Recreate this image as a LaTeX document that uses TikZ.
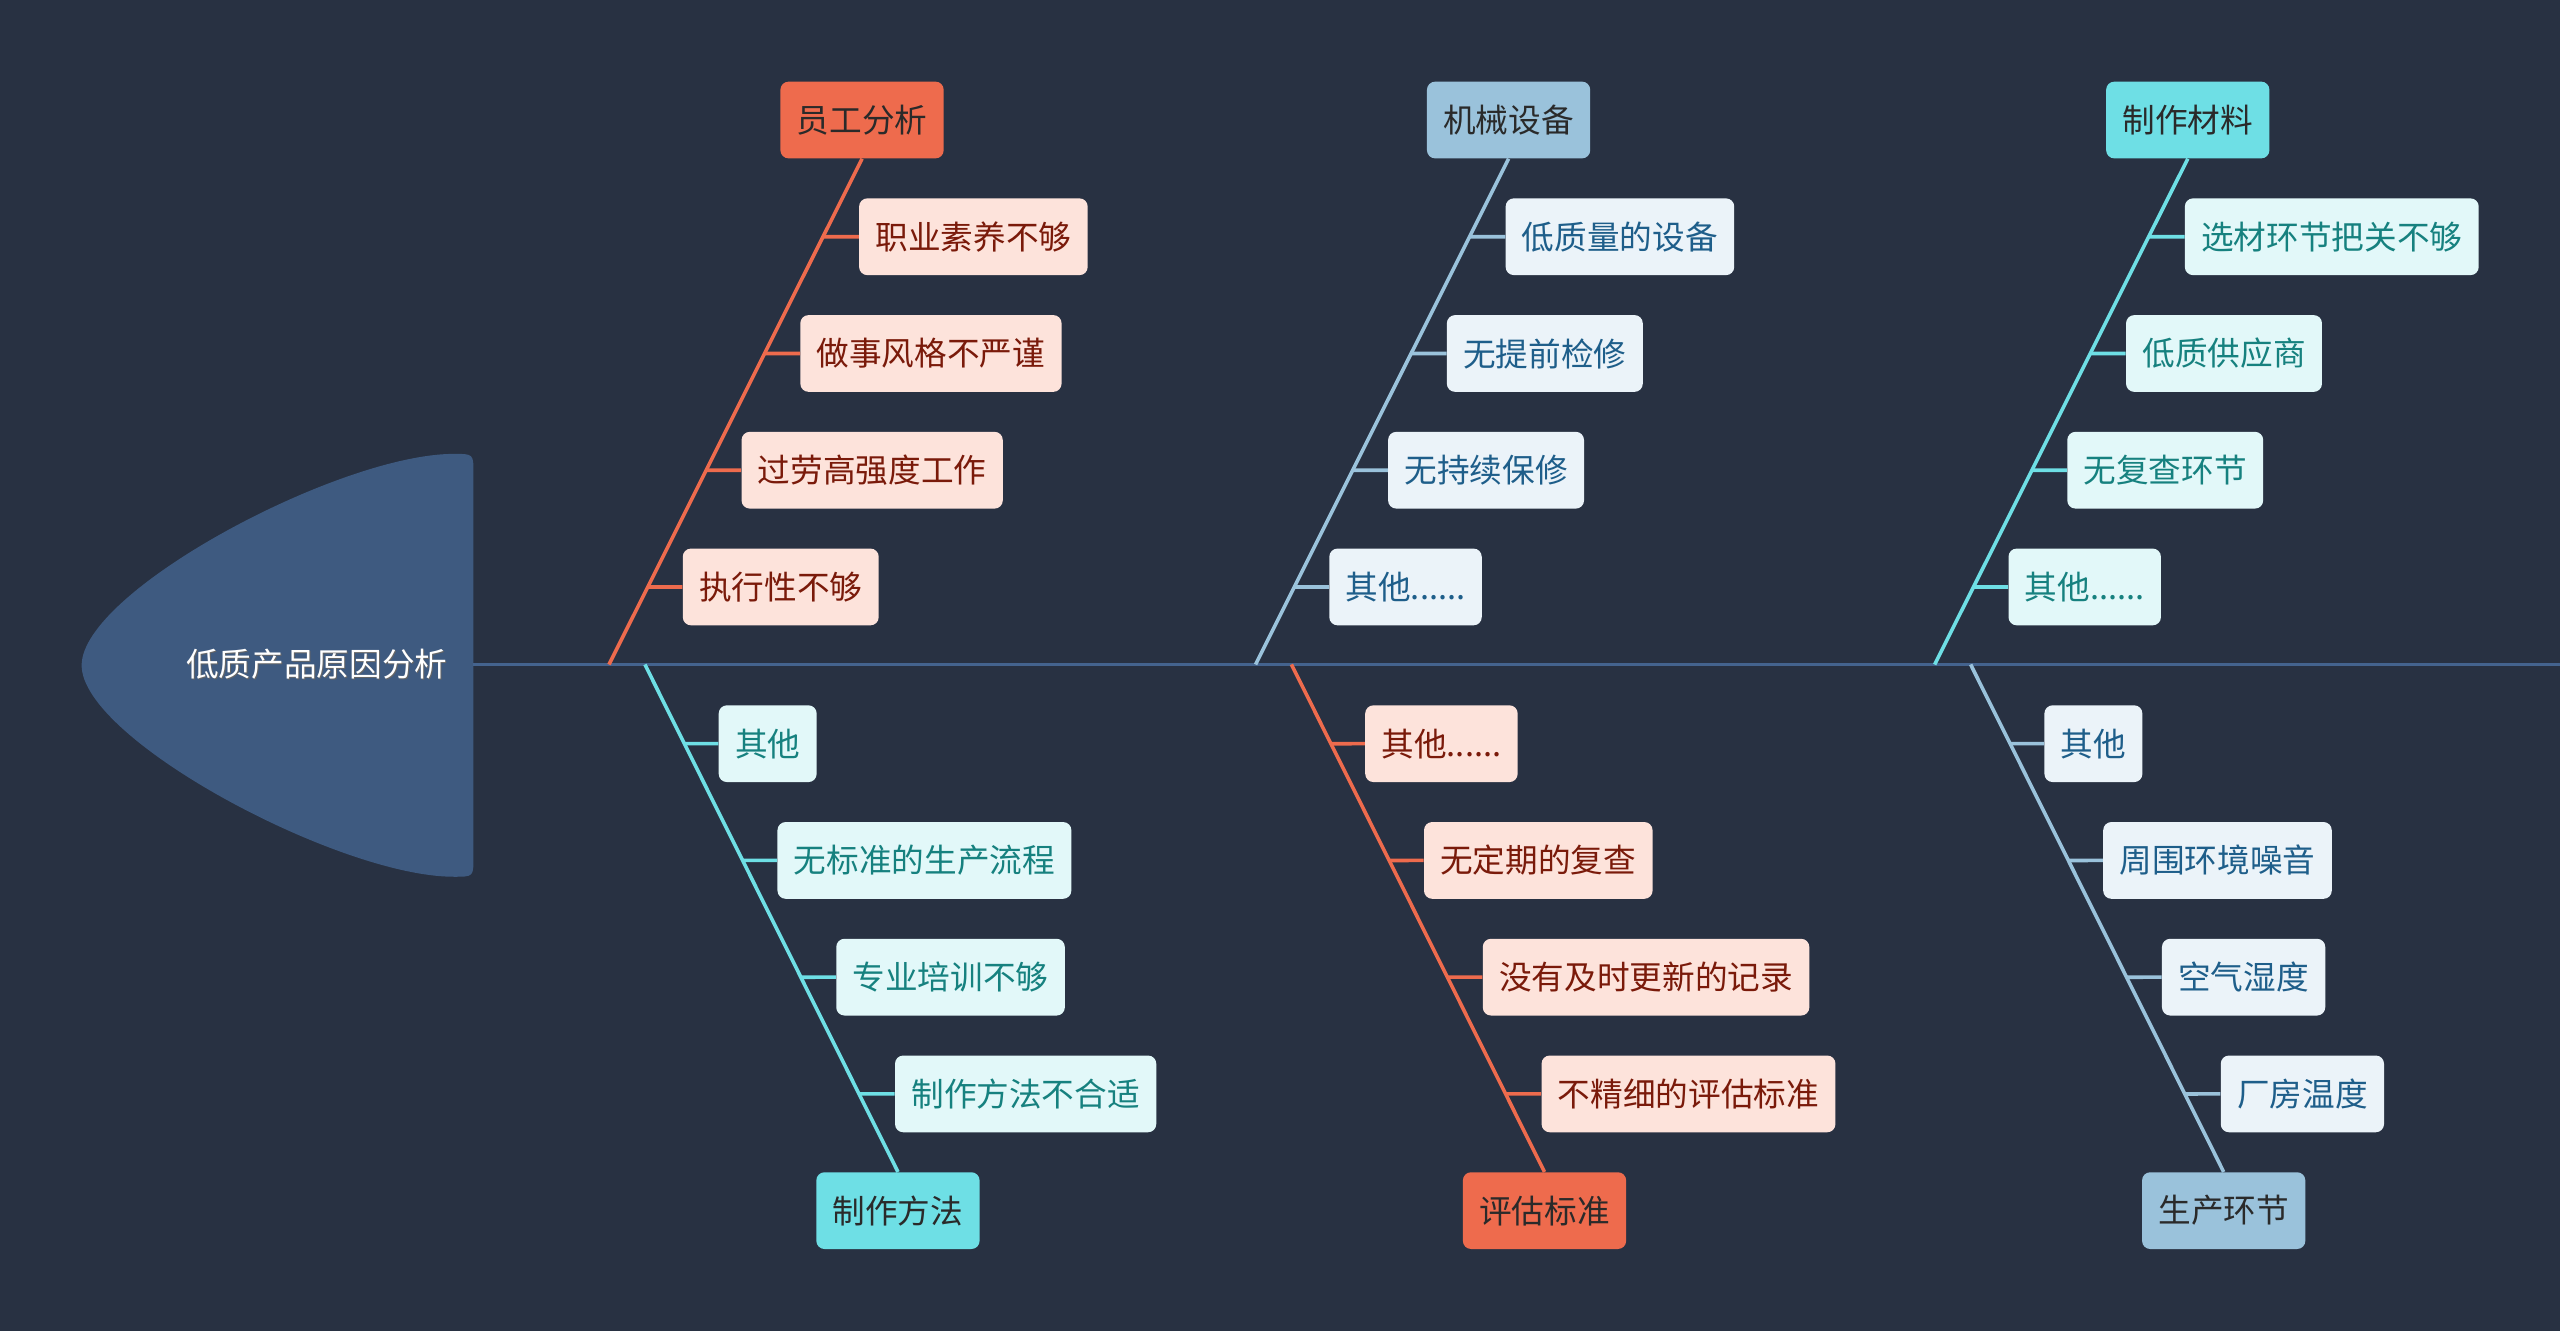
\documentclass[tikz,border=0pt]{standalone}
\usepackage{fontspec}
\setmainfont{Noto Sans CJK SC}
\usetikzlibrary{calc}
\definecolor{bg}{HTML}{283142}
\definecolor{headfill}{HTML}{3E5A80}
\definecolor{spinecol}{HTML}{44638E}
\definecolor{oMain}{HTML}{EE6B4D}
\definecolor{oSub}{HTML}{FDE3DB}
\definecolor{oTxt}{HTML}{7A1A0A}
\definecolor{bMain}{HTML}{9AC2DB}
\definecolor{bSub}{HTML}{EBF3F9}
\definecolor{bTxt}{HTML}{1E5E8A}
\definecolor{cMain}{HTML}{6EDFE5}
\definecolor{cSub}{HTML}{E2F8F9}
\definecolor{cTxt}{HTML}{16817F}
\definecolor{mainTxt}{HTML}{2A2A2A}
\tikzset{
  box/.style={rounded corners=5pt, minimum height=47pt, inner xsep=10pt, inner ysep=0pt,
    font=\fontsize{20pt}{24pt}\selectfont},
  mainO/.style={box, fill=oMain, text=mainTxt},
  mainB/.style={box, fill=bMain, text=mainTxt},
  mainC/.style={box, fill=cMain, text=mainTxt},
  subO/.style={box, fill=oSub, text=oTxt},
  subB/.style={box, fill=bSub, text=bTxt},
  subC/.style={box, fill=cSub, text=cTxt},
  boneO/.style={draw=oMain, line width=2.2pt},
  boneB/.style={draw=bMain, line width=2.2pt},
  boneC/.style={draw=cMain, line width=2.2pt},
}
% #1 x0 on spine, #2 prefix, #3 theme, #4 main, #5-#8 subs (top to bottom)
\newcommand{\TopBranch}[8]{%
  \coordinate (#2s) at (#1,407);
  \node[main#3] (#2m) at (#1+155,73.5) {#4};
  \node[sub#3, anchor=west] (#2a) at (#1+153,145) {#5};
  \node[sub#3, anchor=west] (#2b) at (#1+117,216.5) {#6};
  \node[sub#3, anchor=west] (#2c) at (#1+81,288) {#7};
  \node[sub#3, anchor=west] (#2d) at (#1+45,359.5) {#8};
  \draw[bone#3] (#2s) -- (#2m.south);
  \foreach \k in {a,b,c,d}
    \draw[bone#3] (#2\k.west) -- (intersection of #2s--#2m.south and #2\k.west--#2\k.east);
}
\newcommand{\BotBranch}[8]{%
  \coordinate (#2s) at (#1,407);
  \node[main#3] (#2m) at (#1+155,741.5) {#4};
  \node[sub#3, anchor=west] (#2a) at (#1+45,455.5) {#5};
  \node[sub#3, anchor=west] (#2b) at (#1+81,527) {#6};
  \node[sub#3, anchor=west] (#2c) at (#1+117,598.5) {#7};
  \node[sub#3, anchor=west] (#2d) at (#1+153,670) {#8};
  \draw[bone#3] (#2s) -- (#2m.north);
  \foreach \k in {a,b,c,d}
    \draw[bone#3] (#2\k.west) -- (intersection of #2s--#2m.north and #2\k.west--#2\k.east);
}
\begin{document}
\begin{tikzpicture}[x=1pt,y=-1pt]
\fill[bg] (0,0) rectangle (1568,815);
\useasboundingbox (0,0) rectangle (1568,815);
% head
\fill[headfill] (278,278) .. controls (208,278) and (50,362) .. (50,407.5)
  .. controls (50,453) and (208,537) .. (278,537)
  .. controls (290,537) .. (290,525) -- (290,290)
  .. controls (290,278) .. (278,278) -- cycle;
\node[text=black!60, font=\fontsize{20pt}{24pt}\selectfont] at (194.6,407.6) {低质产品原因分析};
\node[text=white, font=\fontsize{20pt}{24pt}\selectfont] (title) at (194,407) {低质产品原因分析};
\coordinate (headR) at (290,407);
\coordinate (tail) at (1568,407);
\draw[spinecol, line width=2.2pt] (headR) -- (tail);
% branches
\TopBranch{373}{p}{O}{员工分析}{职业素养不够}{做事风格不严谨}{过劳高强度工作}{执行性不够}
\TopBranch{769}{q}{B}{机械设备}{低质量的设备}{无提前检修}{无持续保修}{其他......}
\TopBranch{1185}{r}{C}{制作材料}{选材环节把关不够}{低质供应商}{无复查环节}{其他......}
\BotBranch{395}{u}{C}{制作方法}{其他}{无标准的生产流程}{专业培训不够}{制作方法不合适}
\BotBranch{791}{v}{O}{评估标准}{其他......}{无定期的复查}{没有及时更新的记录}{不精细的评估标准}
\BotBranch{1207}{w}{B}{生产环节}{其他}{周围环境噪音}{空气湿度}{厂房温度}
\end{tikzpicture}
\end{document}
